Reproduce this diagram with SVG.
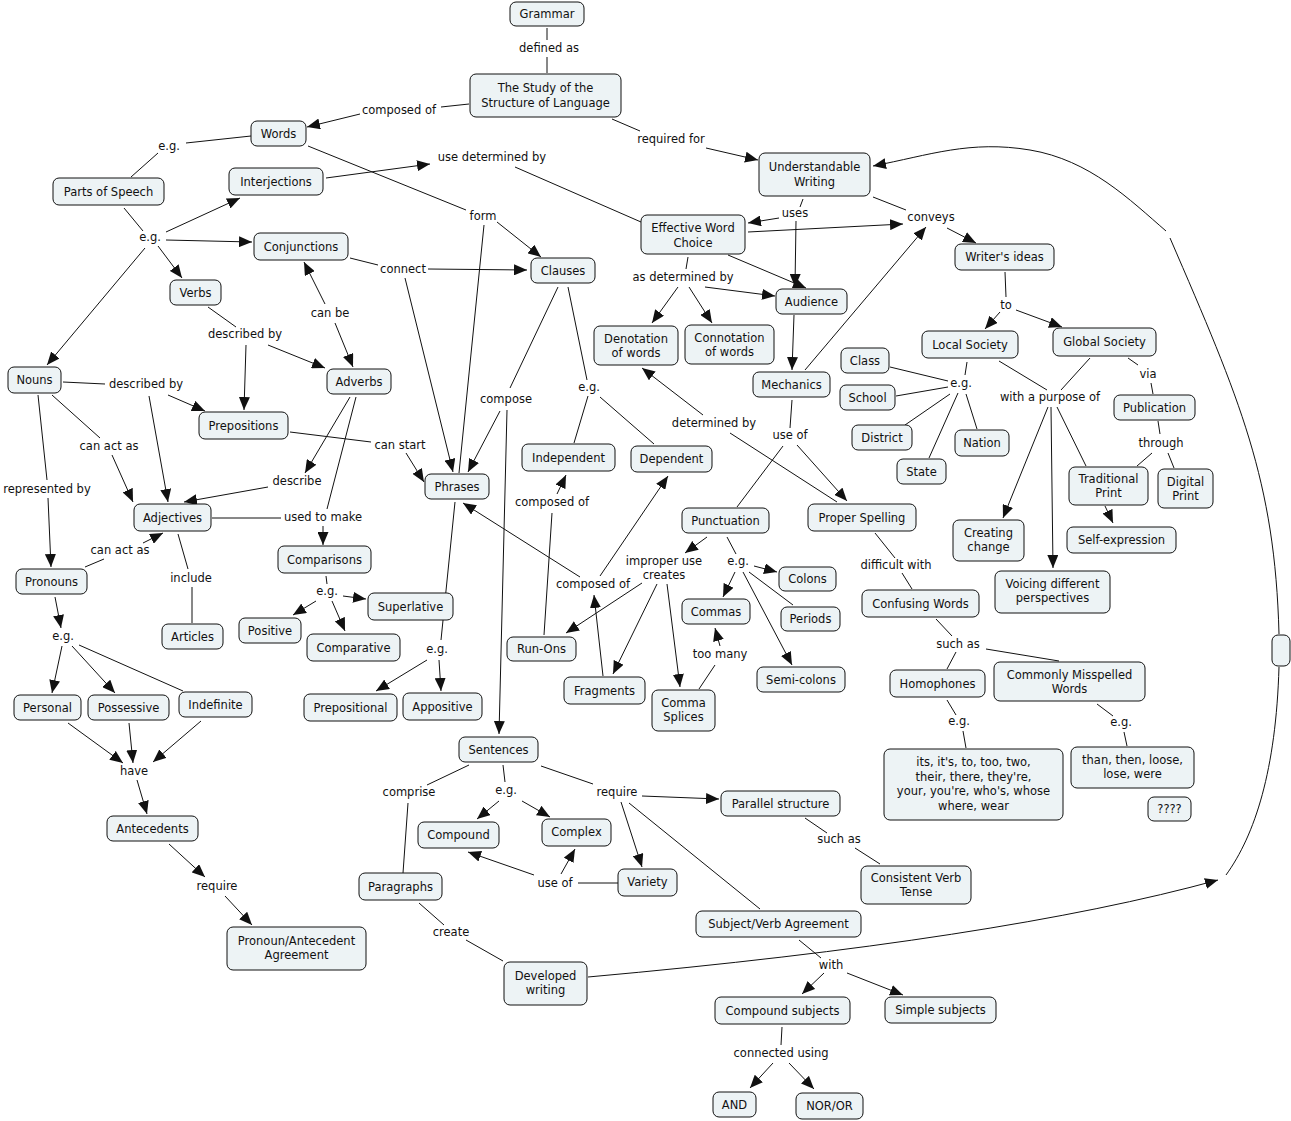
<svg xmlns="http://www.w3.org/2000/svg" width="1291" height="1121" viewBox="0 0 1291 1121">
<defs>
<style>
.n rect{fill:#edf3f5;stroke:#111;stroke-width:1}
text{font-family:"DejaVu Sans",Verdana,sans-serif;font-size:11.5px;fill:#111;text-anchor:middle}
#connectors line,#connectors path{stroke:#111;stroke-width:1;fill:none}
#connectors .a{marker-end:url(#ah)}
</style>
<marker id="ah" viewBox="0 0 13 11" refX="13" refY="5.5" markerWidth="13" markerHeight="11" markerUnits="userSpaceOnUse" orient="auto"><path d="M0,0 L13,5.5 L0,11 z" fill="#111"/></marker>
</defs>
<rect width="1291" height="1121" fill="#fff"/>
<g id="connectors">
<line x1="547" y1="28" x2="547" y2="40"/>
<line x1="547" y1="57" x2="547" y2="73"/>
<line x1="469" y1="104" x2="441" y2="107"/>
<line class="a" x1="360" y1="114" x2="307" y2="127"/>
<line x1="612" y1="119" x2="640" y2="131"/>
<line class="a" x1="706" y1="148" x2="758" y2="160"/>
<line x1="251" y1="136" x2="186" y2="143"/>
<line x1="158" y1="153" x2="131" y2="177"/>
<line x1="308" y1="146" x2="466" y2="210"/>
<line class="a" x1="497" y1="222" x2="541" y2="257"/>
<line x1="484" y1="225" x2="459" y2="473"/>
<line class="a" x1="326" y1="178" x2="430" y2="164"/>
<line x1="515" y1="167" x2="641" y2="222"/>
<line x1="124" y1="208" x2="143" y2="231"/>
<line class="a" x1="166" y1="232" x2="240" y2="198"/>
<line class="a" x1="166" y1="240" x2="252" y2="242"/>
<line class="a" x1="158" y1="246" x2="182" y2="278"/>
<line class="a" x1="145" y1="248" x2="47" y2="365"/>
<line x1="350" y1="258" x2="378" y2="265"/>
<line class="a" x1="428" y1="269" x2="527" y2="270"/>
<line class="a" x1="405" y1="278" x2="453" y2="472"/>
<line class="a" x1="325" y1="304" x2="304" y2="262"/>
<line class="a" x1="335" y1="323" x2="353" y2="367"/>
<line x1="208" y1="307" x2="236" y2="327"/>
<line class="a" x1="268" y1="345" x2="325" y2="368"/>
<line class="a" x1="246" y1="345" x2="244" y2="410"/>
<line x1="63" y1="382" x2="105" y2="384"/>
<line class="a" x1="168" y1="395" x2="205" y2="411"/>
<line class="a" x1="149" y1="396" x2="168" y2="502"/>
<line x1="52" y1="395" x2="100" y2="438"/>
<line class="a" x1="112" y1="455" x2="133" y2="502"/>
<line x1="38" y1="395" x2="47" y2="480"/>
<line class="a" x1="48" y1="498" x2="51" y2="567"/>
<line x1="290" y1="432" x2="371" y2="442"/>
<line class="a" x1="406" y1="453" x2="424" y2="482"/>
<line class="a" x1="350" y1="397" x2="305" y2="473"/>
<line class="a" x1="268" y1="487" x2="184" y2="502"/>
<line x1="356" y1="397" x2="327" y2="509"/>
<line x1="212" y1="518" x2="281" y2="518"/>
<line class="a" x1="323" y1="526" x2="323" y2="545"/>
<line x1="85" y1="567" x2="104" y2="559"/>
<line class="a" x1="143" y1="543" x2="163" y2="533"/>
<line x1="178" y1="534" x2="188" y2="569"/>
<line x1="192" y1="587" x2="192" y2="623"/>
<line class="a" x1="55" y1="597" x2="61" y2="628"/>
<line class="a" x1="62" y1="646" x2="52" y2="693"/>
<line class="a" x1="72" y1="646" x2="115" y2="693"/>
<line x1="79" y1="645" x2="183" y2="691"/>
<line class="a" x1="68" y1="723" x2="123" y2="763"/>
<line class="a" x1="129" y1="723" x2="133" y2="763"/>
<line class="a" x1="201" y1="721" x2="153" y2="762"/>
<line class="a" x1="137" y1="780" x2="147" y2="814"/>
<line class="a" x1="169" y1="844" x2="205" y2="877"/>
<line class="a" x1="225" y1="896" x2="252" y2="925"/>
<line x1="326" y1="576" x2="327" y2="584"/>
<line class="a" x1="316" y1="601" x2="293" y2="615"/>
<line class="a" x1="343" y1="596" x2="366" y2="599"/>
<line class="a" x1="332" y1="601" x2="345" y2="631"/>
<line x1="455" y1="502" x2="441" y2="640"/>
<line class="a" x1="427" y1="660" x2="376" y2="691"/>
<line class="a" x1="439" y1="660" x2="441" y2="691"/>
<line x1="558" y1="287" x2="510" y2="388"/>
<line class="a" x1="500" y1="411" x2="468" y2="472"/>
<line class="a" x1="507" y1="410" x2="499" y2="734"/>
<line x1="568" y1="287" x2="587" y2="380"/>
<line x1="588" y1="396" x2="574" y2="443"/>
<line x1="600" y1="397" x2="654" y2="444"/>
<line x1="544" y1="635" x2="552" y2="513"/>
<line class="a" x1="557" y1="494" x2="566" y2="475"/>
<line class="a" x1="603" y1="676" x2="594" y2="595"/>
<line class="a" x1="600" y1="576" x2="668" y2="476"/>
<line class="a" x1="580" y1="577" x2="463" y2="503"/>
<line class="a" x1="707" y1="537" x2="685" y2="553"/>
<line class="a" x1="642" y1="583" x2="566" y2="633"/>
<line class="a" x1="657" y1="584" x2="613" y2="674"/>
<line class="a" x1="667" y1="584" x2="680" y2="687"/>
<line x1="727" y1="537" x2="736" y2="554"/>
<line class="a" x1="754" y1="566" x2="777" y2="572"/>
<line class="a" x1="735" y1="572" x2="723" y2="597"/>
<line x1="749" y1="572" x2="793" y2="605"/>
<line class="a" x1="743" y1="572" x2="792" y2="665"/>
<line x1="699" y1="689" x2="715" y2="665"/>
<line class="a" x1="720" y1="646" x2="715" y2="628"/>
<line x1="792" y1="400" x2="790" y2="428"/>
<line x1="783" y1="446" x2="737" y2="507"/>
<line class="a" x1="797" y1="445" x2="847" y2="501"/>
<line x1="837" y1="502" x2="730" y2="433"/>
<line class="a" x1="703" y1="415" x2="642" y2="368"/>
<line class="a" x1="805" y1="370" x2="926" y2="227"/>
<line x1="803" y1="199" x2="800" y2="207"/>
<line class="a" x1="779" y1="218" x2="748" y2="223"/>
<line class="a" x1="796" y1="221" x2="795" y2="287"/>
<line x1="873" y1="197" x2="906" y2="210"/>
<line class="a" x1="748" y1="232" x2="903" y2="224"/>
<line class="a" x1="947" y1="228" x2="976" y2="243"/>
<line class="a" x1="728" y1="255" x2="806" y2="288"/>
<line x1="688" y1="257" x2="686" y2="269"/>
<line class="a" x1="678" y1="287" x2="652" y2="323"/>
<line class="a" x1="689" y1="287" x2="712" y2="323"/>
<line class="a" x1="705" y1="287" x2="775" y2="296"/>
<line class="a" x1="794" y1="315" x2="792" y2="370"/>
<line x1="1005" y1="272" x2="1006" y2="297"/>
<line class="a" x1="1000" y1="312" x2="985" y2="329"/>
<line class="a" x1="1016" y1="310" x2="1062" y2="327"/>
<line x1="967" y1="362" x2="965" y2="375"/>
<line x1="948" y1="381" x2="890" y2="367"/>
<line x1="948" y1="387" x2="896" y2="396"/>
<line x1="950" y1="394" x2="905" y2="425"/>
<line x1="958" y1="393" x2="929" y2="458"/>
<line x1="966" y1="394" x2="977" y2="429"/>
<line x1="999" y1="361" x2="1047" y2="390"/>
<line x1="1090" y1="358" x2="1061" y2="390"/>
<line class="a" x1="1048" y1="407" x2="1003" y2="518"/>
<line class="a" x1="1051" y1="407" x2="1053" y2="568"/>
<line x1="1057" y1="407" x2="1086" y2="466"/>
<line x1="1128" y1="358" x2="1138" y2="365"/>
<line x1="1151" y1="383" x2="1153" y2="394"/>
<line x1="1158" y1="421" x2="1160" y2="434"/>
<line x1="1152" y1="453" x2="1137" y2="466"/>
<line x1="1168" y1="453" x2="1174" y2="468"/>
<line class="a" x1="1105" y1="506" x2="1113" y2="523"/>
<line x1="875" y1="533" x2="895" y2="558"/>
<line x1="902" y1="573" x2="912" y2="589"/>
<line x1="936" y1="619" x2="952" y2="636"/>
<line x1="956" y1="652" x2="947" y2="669"/>
<line x1="986" y1="649" x2="1059" y2="661"/>
<line x1="947" y1="700" x2="956" y2="715"/>
<line x1="963" y1="731" x2="966" y2="748"/>
<line x1="1097" y1="704" x2="1113" y2="716"/>
<line x1="1124" y1="732" x2="1127" y2="746"/>
<line x1="469" y1="765" x2="427" y2="785"/>
<line x1="408" y1="803" x2="403" y2="873"/>
<line x1="503" y1="765" x2="505" y2="782"/>
<line class="a" x1="499" y1="801" x2="477" y2="819"/>
<line class="a" x1="522" y1="801" x2="550" y2="817"/>
<line x1="541" y1="766" x2="593" y2="784"/>
<line class="a" x1="642" y1="796" x2="719" y2="799"/>
<line class="a" x1="621" y1="802" x2="642" y2="867"/>
<line x1="629" y1="803" x2="760" y2="909"/>
<line x1="618" y1="883" x2="578" y2="883"/>
<line class="a" x1="534" y1="875" x2="468" y2="852"/>
<line class="a" x1="561" y1="874" x2="575" y2="849"/>
<line x1="805" y1="818" x2="827" y2="833"/>
<line x1="855" y1="848" x2="880" y2="864"/>
<line x1="419" y1="903" x2="444" y2="925"/>
<line x1="466" y1="940" x2="503" y2="961"/>
<line x1="799" y1="940" x2="821" y2="958"/>
<line class="a" x1="824" y1="973" x2="802" y2="994"/>
<line class="a" x1="847" y1="973" x2="903" y2="995"/>
<line x1="782" y1="1027" x2="781" y2="1045"/>
<line class="a" x1="773" y1="1063" x2="750" y2="1088"/>
<line class="a" x1="789" y1="1063" x2="814" y2="1089"/>
<path class="a" d="M588,977 Q1000,940 1218,880"/>
<path d="M1226,875 C1255,835 1276,770 1279,667"/>
<path d="M1279,634 C1275,480 1240,400 1170,238"/>
<path class="a" d="M1166,231 C1130,200 1090,160 1030,150 S930,155 873,166"/>
</g>
<g id="labels">
<text x="549" y="52">defined as</text>
<text x="399" y="114">composed of</text>
<text x="671" y="143">required for</text>
<text x="169" y="150">e.g.</text>
<text x="492" y="161">use determined by</text>
<text x="483" y="220">form</text>
<text x="150" y="241">e.g.</text>
<text x="403" y="273">connect</text>
<text x="795" y="217">uses</text>
<text x="931" y="221">conveys</text>
<text x="683" y="281">as determined by</text>
<text x="1006" y="309">to</text>
<text x="961" y="387">e.g.</text>
<text x="1050" y="401">with a purpose of</text>
<text x="1148" y="378">via</text>
<text x="1161" y="447">through</text>
<text x="714" y="427">determined by</text>
<text x="790" y="439">use of</text>
<text x="330" y="317">can be</text>
<text x="245" y="338">described by</text>
<text x="146" y="388">described by</text>
<text x="506" y="403">compose</text>
<text x="589" y="391">e.g.</text>
<text x="109" y="450">can act as</text>
<text x="400" y="449">can start</text>
<text x="297" y="485">describe</text>
<text x="47" y="493">represented by</text>
<text x="323" y="521">used to make</text>
<text x="552" y="506">composed of</text>
<text x="593" y="588">composed of</text>
<text x="664" y="565">improper use</text>
<text x="664" y="579">creates</text>
<text x="738" y="565">e.g.</text>
<text x="720" y="658">too many</text>
<text x="437" y="653">e.g.</text>
<text x="896" y="569">difficult with</text>
<text x="958" y="648">such as</text>
<text x="959" y="725">e.g.</text>
<text x="1121" y="726">e.g.</text>
<text x="120" y="554">can act as</text>
<text x="191" y="582">include</text>
<text x="327" y="595">e.g.</text>
<text x="63" y="640">e.g.</text>
<text x="134" y="775">have</text>
<text x="217" y="890">require</text>
<text x="409" y="796">comprise</text>
<text x="451" y="936">create</text>
<text x="506" y="794">e.g.</text>
<text x="617" y="796">require</text>
<text x="555" y="887">use of</text>
<text x="839" y="843">such as</text>
<text x="831" y="969">with</text>
<text x="781" y="1057">connected using</text>
</g>
<g id="n-grammar" class="n"><rect x="510" y="2" width="74" height="24" rx="6"/><text x="547" y="18">Grammar</text></g>
<g id="n-study" class="n"><rect x="470" y="74" width="151" height="43" rx="6"/><text x="545.5" y="92">The Study of the</text><text x="545.5" y="107">Structure of Language</text></g>
<g id="n-words" class="n"><rect x="251" y="121" width="55" height="25" rx="6"/><text x="278.5" y="137.5">Words</text></g>
<g id="n-pos" class="n"><rect x="53" y="178" width="111" height="27" rx="6"/><text x="108.5" y="195.5">Parts of Speech</text></g>
<g id="n-interjections" class="n"><rect x="229" y="168" width="94" height="27" rx="6"/><text x="276" y="185.5">Interjections</text></g>
<g id="n-conjunctions" class="n"><rect x="254" y="233" width="94" height="27" rx="6"/><text x="301" y="250.5">Conjunctions</text></g>
<g id="n-verbs" class="n"><rect x="170" y="280" width="51" height="25" rx="6"/><text x="195.5" y="296.5">Verbs</text></g>
<g id="n-clauses" class="n"><rect x="531" y="258" width="64" height="25" rx="6"/><text x="563" y="274.5">Clauses</text></g>
<g id="n-uw" class="n"><rect x="759" y="153" width="111" height="43" rx="6"/><text x="814.5" y="171">Understandable</text><text x="814.5" y="186">Writing</text></g>
<g id="n-ewc" class="n"><rect x="641" y="215" width="104" height="39" rx="6"/><text x="693" y="232">Effective Word</text><text x="693" y="247">Choice</text></g>
<g id="n-writers" class="n"><rect x="955" y="244" width="99" height="26" rx="6"/><text x="1004.5" y="261">Writer's ideas</text></g>
<g id="n-audience" class="n"><rect x="776" y="289" width="71" height="25" rx="6"/><text x="811.5" y="305.5">Audience</text></g>
<g id="n-denotation" class="n"><rect x="594" y="326" width="84" height="39" rx="6"/><text x="636" y="343">Denotation</text><text x="636" y="357">of words</text></g>
<g id="n-connotation" class="n"><rect x="685" y="325" width="89" height="39" rx="6"/><text x="729.5" y="342">Connotation</text><text x="729.5" y="356">of words</text></g>
<g id="n-mechanics" class="n"><rect x="753" y="372" width="77" height="25" rx="6"/><text x="791.5" y="388.5">Mechanics</text></g>
<g id="n-local" class="n"><rect x="922" y="331" width="96" height="27" rx="6"/><text x="970" y="348.5">Local Society</text></g>
<g id="n-global" class="n"><rect x="1053" y="328" width="103" height="28" rx="6"/><text x="1104.5" y="345.5">Global Society</text></g>
<g id="n-class" class="n"><rect x="841" y="348" width="48" height="25" rx="6"/><text x="865" y="364.5">Class</text></g>
<g id="n-school" class="n"><rect x="840" y="385" width="55" height="25" rx="6"/><text x="867.5" y="401.5">School</text></g>
<g id="n-district" class="n"><rect x="852" y="425" width="60" height="25" rx="6"/><text x="882" y="441.5">District</text></g>
<g id="n-nation" class="n"><rect x="955" y="430" width="54" height="26" rx="6"/><text x="982" y="447">Nation</text></g>
<g id="n-state" class="n"><rect x="897" y="459" width="49" height="25" rx="6"/><text x="921.5" y="475.5">State</text></g>
<g id="n-publication" class="n"><rect x="1114" y="395" width="81" height="25" rx="6"/><text x="1154.5" y="411.5">Publication</text></g>
<g id="n-tradprint" class="n"><rect x="1069" y="467" width="79" height="38" rx="6"/><text x="1108.5" y="483">Traditional</text><text x="1108.5" y="497">Print</text></g>
<g id="n-digital" class="n"><rect x="1158" y="469" width="55" height="39" rx="6"/><text x="1185.5" y="486">Digital</text><text x="1185.5" y="500">Print</text></g>
<g id="n-selfexp" class="n"><rect x="1067" y="527" width="109" height="26" rx="6"/><text x="1121.5" y="544">Self-expression</text></g>
<g id="n-creating" class="n"><rect x="953" y="520" width="71" height="41" rx="6"/><text x="988.5" y="537">Creating</text><text x="988.5" y="551">change</text></g>
<g id="n-voicing" class="n"><rect x="995" y="571" width="115" height="42" rx="6"/><text x="1052.5" y="588">Voicing different</text><text x="1052.5" y="602">perspectives</text></g>
<g id="n-nouns" class="n"><rect x="8" y="367" width="53" height="26" rx="6"/><text x="34.5" y="384">Nouns</text></g>
<g id="n-prepositions" class="n"><rect x="199" y="412" width="89" height="27" rx="6"/><text x="243.5" y="429.5">Prepositions</text></g>
<g id="n-adverbs" class="n"><rect x="327" y="369" width="64" height="25" rx="6"/><text x="359" y="385.5">Adverbs</text></g>
<g id="n-phrases" class="n"><rect x="425" y="474" width="64" height="25" rx="6"/><text x="457" y="490.5">Phrases</text></g>
<g id="n-independent" class="n"><rect x="522" y="444" width="93" height="27" rx="6"/><text x="568.5" y="461.5">Independent</text></g>
<g id="n-dependent" class="n"><rect x="631" y="446" width="81" height="26" rx="6"/><text x="671.5" y="462.5">Dependent</text></g>
<g id="n-adjectives" class="n"><rect x="134" y="504" width="77" height="27" rx="6"/><text x="172.5" y="521.5">Adjectives</text></g>
<g id="n-comparisons" class="n"><rect x="278" y="546" width="93" height="27" rx="6"/><text x="324.5" y="563.5">Comparisons</text></g>
<g id="n-punctuation" class="n"><rect x="682" y="508" width="87" height="25" rx="6"/><text x="725.5" y="524.5">Punctuation</text></g>
<g id="n-spelling" class="n"><rect x="808" y="504" width="108" height="27" rx="6"/><text x="862" y="521.5">Proper Spelling</text></g>
<g id="n-pronouns" class="n"><rect x="16" y="569" width="71" height="25" rx="6"/><text x="51.5" y="585.5">Pronouns</text></g>
<g id="n-articles" class="n"><rect x="162" y="624" width="61" height="25" rx="6"/><text x="192.5" y="640.5">Articles</text></g>
<g id="n-superlative" class="n"><rect x="368" y="593" width="85" height="27" rx="6"/><text x="410.5" y="610.5">Superlative</text></g>
<g id="n-positive" class="n"><rect x="239" y="618" width="62" height="25" rx="6"/><text x="270" y="634.5">Positive</text></g>
<g id="n-comparative" class="n"><rect x="307" y="634" width="93" height="27" rx="6"/><text x="353.5" y="651.5">Comparative</text></g>
<g id="n-runons" class="n"><rect x="507" y="637" width="69" height="24" rx="6"/><text x="541.5" y="653">Run-Ons</text></g>
<g id="n-commas" class="n"><rect x="682" y="599" width="68" height="25" rx="6"/><text x="716" y="615.5">Commas</text></g>
<g id="n-colons" class="n"><rect x="779" y="567" width="57" height="24" rx="6"/><text x="807.5" y="583">Colons</text></g>
<g id="n-periods" class="n"><rect x="781" y="607" width="59" height="24" rx="6"/><text x="810.5" y="623">Periods</text></g>
<g id="n-fragments" class="n"><rect x="564" y="677" width="81" height="27" rx="6"/><text x="604.5" y="694.5">Fragments</text></g>
<g id="n-commasplices" class="n"><rect x="652" y="690" width="63" height="41" rx="6"/><text x="683.5" y="707">Comma</text><text x="683.5" y="721">Splices</text></g>
<g id="n-semicolons" class="n"><rect x="757" y="667" width="88" height="25" rx="6"/><text x="801" y="683.5">Semi-colons</text></g>
<g id="n-confusing" class="n"><rect x="862" y="590" width="117" height="27" rx="6"/><text x="920.5" y="607.5">Confusing Words</text></g>
<g id="n-homophones" class="n"><rect x="890" y="670" width="95" height="27" rx="6"/><text x="937.5" y="687.5">Homophones</text></g>
<g id="n-misspelled" class="n"><rect x="994" y="662" width="151" height="39" rx="6"/><text x="1069.5" y="679">Commonly Misspelled</text><text x="1069.5" y="693">Words</text></g>
<g id="n-its" class="n"><rect x="884" y="749" width="179" height="71" rx="6"/><text x="973.5" y="766">its, it's, to, too, two,</text><text x="973.5" y="780.5">their, there, they're,</text><text x="973.5" y="795">your, you're, who's, whose</text><text x="973.5" y="809.5">where, wear</text></g>
<g id="n-than" class="n"><rect x="1071" y="747" width="123" height="41" rx="6"/><text x="1132.5" y="764">than, then, loose,</text><text x="1132.5" y="778">lose, were</text></g>
<g id="n-q" class="n"><rect x="1148" y="797" width="43" height="24" rx="6"/><text x="1169.5" y="813">????</text></g>
<g id="n-personal" class="n"><rect x="14" y="695" width="67" height="25" rx="6"/><text x="47.5" y="711.5">Personal</text></g>
<g id="n-possessive" class="n"><rect x="88" y="695" width="81" height="25" rx="6"/><text x="128.5" y="711.5">Possessive</text></g>
<g id="n-indefinite" class="n"><rect x="179" y="692" width="73" height="25" rx="6"/><text x="215.5" y="708.5">Indefinite</text></g>
<g id="n-prepositional" class="n"><rect x="304" y="694" width="93" height="27" rx="6"/><text x="350.5" y="711.5">Prepositional</text></g>
<g id="n-appositive" class="n"><rect x="403" y="693" width="79" height="27" rx="6"/><text x="442.5" y="710.5">Appositive</text></g>
<g id="n-sentences" class="n"><rect x="459" y="737" width="79" height="25" rx="6"/><text x="498.5" y="753.5">Sentences</text></g>
<g id="n-compound" class="n"><rect x="418" y="822" width="81" height="26" rx="6"/><text x="458.5" y="838.5">Compound</text></g>
<g id="n-complex" class="n"><rect x="542" y="819" width="69" height="27" rx="6"/><text x="576.5" y="836">Complex</text></g>
<g id="n-parallel" class="n"><rect x="721" y="791" width="119" height="25" rx="6"/><text x="780.5" y="807.5">Parallel structure</text></g>
<g id="n-variety" class="n"><rect x="618" y="869" width="59" height="27" rx="6"/><text x="647.5" y="886">Variety</text></g>
<g id="n-paragraphs" class="n"><rect x="359" y="873" width="83" height="27" rx="6"/><text x="400.5" y="890.5">Paragraphs</text></g>
<g id="n-consistent" class="n"><rect x="861" y="866" width="110" height="38" rx="6"/><text x="916" y="882">Consistent Verb</text><text x="916" y="896">Tense</text></g>
<g id="n-svagreement" class="n"><rect x="696" y="911" width="165" height="26" rx="6"/><text x="778.5" y="927.5">Subject/Verb Agreement</text></g>
<g id="n-antecedents" class="n"><rect x="107" y="816" width="91" height="25" rx="6"/><text x="152.5" y="832.5">Antecedents</text></g>
<g id="n-paagreement" class="n"><rect x="227" y="927" width="139" height="43" rx="6"/><text x="296.5" y="945">Pronoun/Antecedent</text><text x="296.5" y="959">Agreement</text></g>
<g id="n-developed" class="n"><rect x="504" y="962" width="83" height="43" rx="6"/><text x="545.5" y="980">Developed</text><text x="545.5" y="994">writing</text></g>
<g id="n-compsubj" class="n"><rect x="715" y="997" width="135" height="27" rx="6"/><text x="782.5" y="1014.5">Compound subjects</text></g>
<g id="n-simplesubj" class="n"><rect x="885" y="997" width="111" height="26" rx="6"/><text x="940.5" y="1014">Simple subjects</text></g>
<g id="n-and" class="n"><rect x="713" y="1092" width="43" height="25" rx="6"/><text x="734.5" y="1108.5">AND</text></g>
<g id="n-noror" class="n"><rect x="796" y="1093" width="67" height="26" rx="6"/><text x="829.5" y="1110">NOR/OR</text></g>
<g id="n-empty" class="n"><rect x="1272" y="635" width="18" height="31" rx="6"/></g>
</svg>
